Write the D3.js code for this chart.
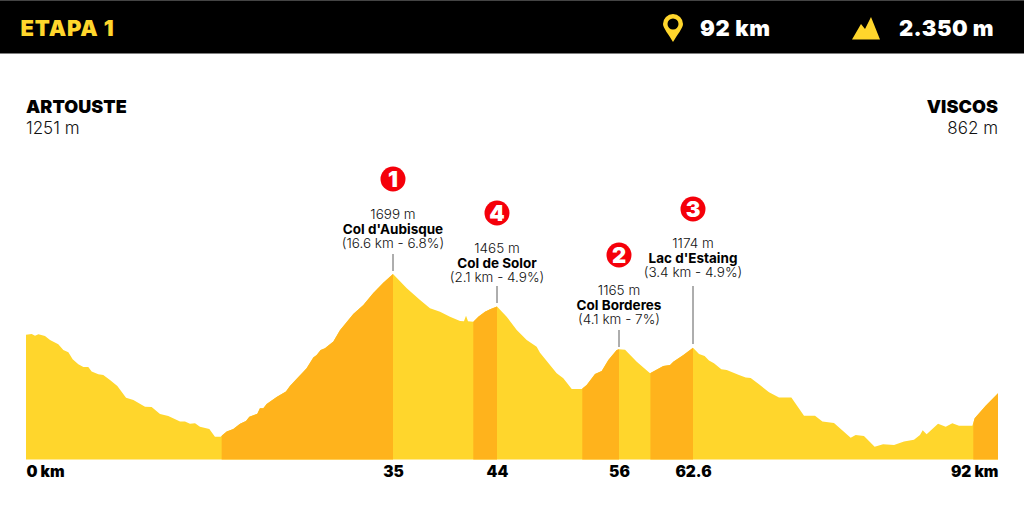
<!DOCTYPE html>
<html>
<head>
<meta charset="utf-8">
<script src="https://cdn.jsdelivr.net/npm/d3@7"></script>
<style>
html, body { margin: 0; padding: 0; background: #fff; }
svg { display: block; font-family: Inter, "Liberation Sans", sans-serif; }
</style>
</head>
<body>
<svg id="chart" width="1024" height="526"></svg>
<script>
// profile
var km = [0, 0.54, 0.86, 1.18, 1.81, 2.29, 3.08, 3.56, 4.04, 4.45, 4.99, 5.47, 5.94, 6.26, 6.9, 7.37, 8.01, 8.71, 9.54, 10.24,
	11.35, 11.98, 12.78, 13.57, 14.69, 15.16, 15.64, 16.12, 16.59, 17.48, 18.02, 18.56, 19.14, 19.77, 20.41, 20.98, 21.3, 22.06, 22.31, 22.63,
	22.95, 23.9, 24.79, 25.17, 26.76, 27.4, 27.72, 28.1, 28.51, 29.31, 29.94, 31.21, 32.17, 33.12, 34.07, 35, 36.19, 37.34, 38.2, 39.07,
	39.93, 40.8, 41.14, 41.32, 41.49, 41.95, 42.38, 42.96, 43.4, 44, 44.95, 45.94, 46.92, 47.9, 48.23, 49.21, 49.87, 50.52, 51.35, 52.34,
	52.82, 53.64, 54.3, 54.95, 55.77, 56, 56.54, 57.58, 58.77, 59.95, 60.55, 60.84, 61.74, 62.6, 63.18, 63.72, 64.14, 64.62, 65.33, 65.85,
	67.03, 67.68, 68.16, 68.96, 69.93, 70.89, 72.08, 73.3, 74.36, 75.07, 76.19, 77.8, 78.28, 79.08, 80.11, 80.92, 81.98, 82.94, 83.9, 84.48,
	84.74, 85.12, 86.22, 86.96, 87.6, 88.24, 89.53, 89.75, 90.81, 92];
var elevation = [1268, 1273, 1261, 1271, 1259, 1230, 1200, 1159, 1143, 1093, 1058, 1039, 1039, 1006, 987, 982, 946, 904, 821, 804,
	757, 755, 705, 691, 651, 651, 636, 639, 615, 598, 544, 544, 580, 598, 636, 655, 686, 707, 745, 745,
	776, 826, 864, 904, 1029, 1107, 1124, 1159, 1171, 1219, 1300, 1415, 1479, 1564, 1637, 1699, 1598, 1514, 1456, 1431,
	1396, 1365, 1363, 1403, 1363, 1360, 1396, 1431, 1448, 1468, 1396, 1301, 1230, 1183, 1140, 1053, 994, 958, 883, 883,
	911, 989, 1010, 1088, 1159, 1165, 1162, 1076, 994, 1046, 1053, 1076, 1124, 1176, 1131, 1117, 1084, 1065, 1022, 1017,
	982, 965, 961, 916, 859, 823, 823, 693, 693, 651, 641, 537, 556, 549, 473, 490, 485, 509, 523, 556,
	589, 561, 636, 615, 639, 622, 622, 674, 764, 852];

// climbs: from km, to km
var climbStart = [18.66, 41.95, 52.39, 58.8, 89.62];
var climbEnd = [35, 44, 56, 62.6, 92];

// summits
var summitNumber = ["1", "4", "2", "3"];
var summitKm = [35, 44, 56, 62.6];
var summitHeight = ["1699 m", "1465 m", "1165 m", "1174 m"];
var summitName = ["Col d'Aubisque", "Col de Solor", "Col Borderes", "Lac d'Estaing"];
var summitClimb = ["(16.6 km - 6.8%)", "(2.1 km - 4.9%)", "(4.1 km - 7%)", "(3.4 km - 4.9%)"];

// axis
var tickKm = [0, 35, 44, 56, 62.6, 92];
var tickLabels = ["0 km", "35", "44", "56", "62.6", "92 km"];

var YELLOW = "#FFD62C", ORANGE = "#FFB31C";

var svg = d3.select("#chart");

// the distance axis of the original is not quite even, so it goes through each labelled km
var x = d3.scaleLinear().domain(tickKm).range([26, 393, 497, 619, 693, 998]);
var y = d3.scaleLinear().domain([382, 1699]).range([459.5, 274]);

// header
svg.append("rect").attr("width", 1024).attr("height", 53.5).attr("fill", "#000");
svg.append("rect").attr("width", 1024).attr("height", 1).attr("fill", "#444");

var headText = function(tx, text, fill, spacing){
	svg.append("text")
		.attr("x", tx)
		.attr("y", 35.5)
		.attr("fill", fill)
		.attr("font-size", 22)
		.attr("font-weight", 900)
		.attr("letter-spacing", spacing)
		.text(text);
};
headText(20.5, "ETAPA 1", YELLOW, 0.8);
headText(700, "92 km", "#fff", 0.6);
headText(899, "2.350 m", "#fff", 0.4);

// pin icon
svg.append("path")
	.attr("fill-rule", "evenodd")
	.attr("fill", YELLOW)
	.attr("d", "M673 42 C669 35 663 28 663 24 A10 10 0 0 1 683 24 C683 28 677 35 673 42 Z M673 18.5 A5.5 5.5 0 1 0 673 29.5 A5.5 5.5 0 1 0 673 18.5 Z");

// mountain icon
svg.append("path")
	.attr("fill", YELLOW)
	.attr("d", "M852 39.5 L861 24 L865 29 L871 17 L880 39.5 Z");

// start and finish
var place = function(tx, name, height, anchor){
	svg.append("text").attr("x", tx).attr("y", 113).attr("text-anchor", anchor)
		.attr("font-size", 18).attr("font-weight", 900).attr("fill", "#000").attr("letter-spacing", 0.05).text(name);
	svg.append("text").attr("x", tx).attr("y", 134).attr("text-anchor", anchor)
		.attr("font-size", 17).attr("font-weight", 300).attr("fill", "#111").text(height);
};
place(26, "ARTOUSTE", "1251 m", "start");
place(998, "VISCOS", "862 m", "end");

// profile
var profile = d3.range(km.length);
var area = d3.area()
	.x(function(i){ return x(km[i]); })
	.y0(y(382))
	.y1(function(i){ return y(elevation[i]); });

svg.append("path").attr("d", area(profile)).attr("fill", YELLOW);

svg.append("clipPath").attr("id", "climbs")
	.selectAll("rect")
	.data(climbStart)
	.enter()
	.append("rect")
	.attr("x", function(a){ return x(a); })
	.attr("y", 0)
	.attr("width", function(a, i){ return x(climbEnd[i]) - x(a); })
	.attr("height", 526);

svg.append("path").attr("d", area(profile)).attr("fill", ORANGE).attr("clip-path", "url(#climbs)");

// axis
var axis = svg.append("g")
	.attr("transform", "translate(0," + y(382) + ")")
	.call(d3.axisBottom(x)
		.tickValues(tickKm)
		.tickSize(0)
		.tickPadding(0)
		.tickFormat(function(a, i){ return tickLabels[i]; }));
axis.select(".domain").remove();
axis.selectAll("text")
	.attr("y", 17.5)
	.attr("dy", 0)
	.attr("font-family", "Inter, 'Liberation Sans', sans-serif")
	.attr("font-size", 15.5)
	.attr("font-weight", 900)
	.attr("fill", "#000")
	.attr("text-anchor", function(a){ return a == 0 ? "start" : a == 92 ? "end" : "middle"; });

// summit labels, top of each block
var labelTop = [219, 253, 295, 248];
var leaderTop = [254, 286, 330, 286];
var leaderEnd = [271, 303, 347, 344];
var badgeY = [179, 213, 255, 209];

summitKm.forEach(function(a, i){
	var sx = x(a);
	svg.append("line")
		.attr("x1", sx).attr("x2", sx)
		.attr("y1", leaderTop[i]).attr("y2", leaderEnd[i])
		.attr("stroke", "#333").attr("stroke-width", 0.8);
	svg.append("circle")
		.attr("cx", sx).attr("cy", badgeY[i]).attr("r", 12.5)
		.attr("fill", "#F5000A");
	svg.append("text")
		.attr("x", sx).attr("y", badgeY[i] + 8)
		.attr("text-anchor", "middle")
		.attr("font-size", 22).attr("font-weight", 900).attr("fill", "#fff")
		.text(summitNumber[i]);
	svg.append("text")
		.attr("x", sx).attr("y", labelTop[i])
		.attr("text-anchor", "middle")
		.attr("font-size", 13.5).attr("font-weight", 300).attr("fill", "#111")
		.text(summitHeight[i]);
	svg.append("text")
		.attr("x", sx).attr("y", labelTop[i] + 14.5)
		.attr("text-anchor", "middle")
		.attr("font-size", 13.5).attr("font-weight", 700).attr("fill", "#000")
		.text(summitName[i]);
	svg.append("text")
		.attr("x", sx).attr("y", labelTop[i] + 29)
		.attr("text-anchor", "middle")
		.attr("font-size", 13.5).attr("font-weight", 300).attr("fill", "#111")
		.text(summitClimb[i]);
});
</script>
</body>
</html>
